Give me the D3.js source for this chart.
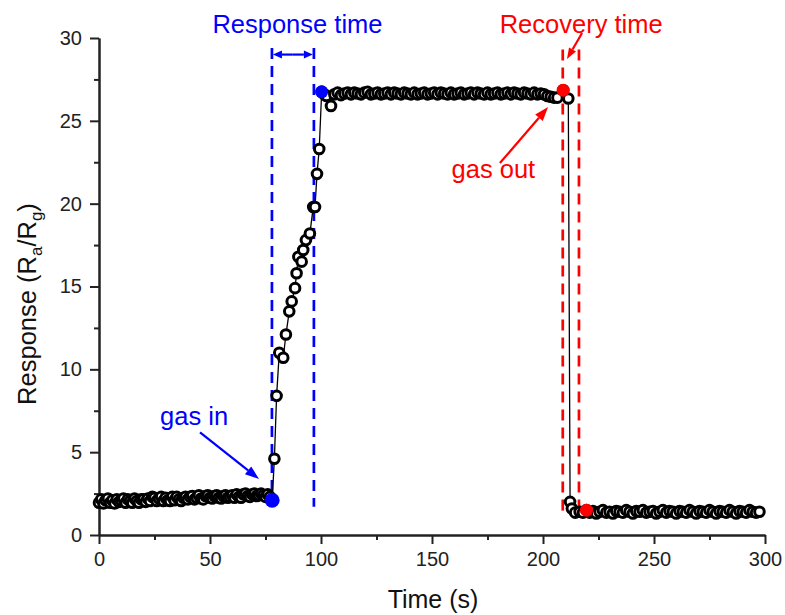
<!DOCTYPE html>
<html>
<head>
<meta charset="utf-8">
<script src="https://cdn.jsdelivr.net/npm/d3@7"></script>
<style>
  body { margin: 0; background: #fff; }
  svg { font-family: "Liberation Sans", Arial, sans-serif; }
</style>
</head>
<body>
<svg id="chart" width="785" height="615"></svg>
<script>
// baseline in air
var baseTime = [0,1,2,3,4,5,6,7,8,9,10,11,12,13,14,15,16,17,18,19,20,21,22,23,24,25,26,27,28,29,30,31,32,33,34,35,36,37,38,39,40,41,42,43,44,45,46,47,48,49,50,51,52,53,54,55,56,57,58,59,60,61,62,63,64,65,66,67,68,69,70,71,72,73,74,75,76,77];
var baseResp = [1.95,2.15,1.9,2.1,2.2,1.95,2.1,1.9,2.15,2.0,
  2.1,2.2,1.95,2.15,2.05,1.95,2.2,2.05,1.95,2.15,
  2.15,2.0,2.2,2.05,2.3,2.25,2.05,2.2,2.3,2.05,
  2.25,2.1,2.05,2.3,2.1,2.3,2.15,2.05,2.25,2.3,
  2.15,2.3,2.35,2.15,2.25,2.4,2.2,2.15,2.35,2.4,
  2.25,2.2,2.35,2.4,2.25,2.2,2.35,2.4,2.25,2.3,
  2.4,2.25,2.45,2.3,2.25,2.45,2.5,2.35,2.3,2.45,
  2.5,2.35,2.4,2.5,2.4,2.3,2.45,2.3];
// gas in -> rise
var riseTime = [78,79,80,81.2,83,84.2,85.7,86.8,88.3,89,89.8,91.3,92,93.2,95,96.5,97.3,98.2,99.2,100.3,101.5,102.5,104.5];
var riseResp = [2.1,4.6,8.4,11.0,10.7,12.1,13.5,14.1,14.9,15.8,16.8,16.5,17.2,17.8,18.2,19.8,19.8,21.8,23.3,26.75,26.6,26.5,25.9];
// plateau in gas
var plateauTime = [106,107.5,109,110.5,112,113.5,115,116.5,118,119.5,121,122.5,124,125.5,127,128.5,130,131.5,133,134.5,136,137.5,139,140.5,142,143.5,145,146.5,148,149.5,151,152.5,154,155.5,157,158.5,160,161.5,163,164.5,166,167.5,169,170.5,172,173.5,175,176.5,178,179.5,181,182.5,184,185.5,187,188.5,190,191.5,193,194.5,196,197.5,199,200.5,202,203.5,205,206.5];
var plateauResp = [26.6,26.7,26.55,26.65,26.7,26.6,26.7,26.65,26.6,26.7,
  26.75,26.6,26.65,26.7,26.6,26.65,26.7,26.6,26.7,26.65,
  26.6,26.7,26.65,26.6,26.7,26.6,26.65,26.7,26.6,26.65,
  26.7,26.6,26.7,26.65,26.6,26.7,26.6,26.65,26.7,26.6,
  26.65,26.7,26.6,26.7,26.65,26.6,26.7,26.6,26.65,26.7,
  26.6,26.65,26.7,26.6,26.7,26.65,26.6,26.7,26.65,26.6,
  26.7,26.6,26.65,26.6,26.5,26.45,26.4,26.4];
// gas out -> fall
var fallTime = [209.1,211.4,212.2,213,214.5,216.5,218,219.6];
var fallResp = [26.85,26.35,2.0,1.6,1.35,1.4,1.35,1.5];
// recovered baseline
var recTime = [221,222.5,224,225.5,227,228.5,230,231.5,233,234.5,236,237.5,239,240.5,242,243.5,245,246.5,248,249.5,251,252.5,254,255.5,257,258.5,260,261.5,263,264.5,266,267.5,269,270.5,272,273.5,275,276.5,278,279.5,281,282.5,284,285.5,287,288.5,290,291.5,293,294.5,296,297.5];
var recResp = [1.35,1.45,1.3,1.4,1.5,1.35,1.4,1.3,1.45,1.4,
  1.35,1.5,1.4,1.3,1.45,1.4,1.5,1.35,1.4,1.45,
  1.3,1.4,1.5,1.35,1.45,1.4,1.3,1.45,1.4,1.35,
  1.5,1.4,1.3,1.45,1.4,1.35,1.5,1.4,1.3,1.45,
  1.4,1.35,1.5,1.4,1.3,1.45,1.4,1.35,1.5,1.4,
  1.35,1.4];
// highlighted points: [time, response, colour, radius]
var highlights = [[78,2.1,'#0000ff',7.5],[100.3,26.75,'#0000ff',6.5],[209.1,26.85,'#ff0000',6.5],[219.6,1.5,'#ff0000',6.5]];

var xTicks = [0,50,100,150,200,250,300];
var xMinor = [25,75,125,175,225,275];
var yTicks = [0,5,10,15,20,25,30];
var yMinor = [2.5,7.5,12.5,17.5,22.5,27.5];

var svg = d3.select('#chart');
var x = d3.scaleLinear().domain([0,300]).range([99,765]);
var y = d3.scaleLinear().domain([0,30]).range([535,38]);

var pts = [];
function pushSeg(ts, vs) {
  for (var i = 0; i < ts.length; i++) pts.push({t: ts[i], v: vs[i]});
}
pushSeg(baseTime, baseResp);
pushSeg(riseTime, riseResp);
pushSeg(plateauTime, plateauResp);
pushSeg(fallTime, fallResp);
pushSeg(recTime, recResp);

// axes
function styleAxis(g) {
  g.select('.domain').attr('stroke','#222').attr('stroke-width',2);
  g.selectAll('.tick line').attr('stroke','#222').attr('stroke-width',2);
  g.selectAll('.tick text').attr('fill','#222').style('font-size','20px');
}
svg.append('g').attr('transform','translate(0,535)')
  .call(d3.axisBottom(x).tickValues(xMinor).tickSize(5).tickSizeOuter(0).tickFormat(''))
  .call(styleAxis);
svg.append('g').attr('transform','translate(0,535)')
  .call(d3.axisBottom(x).tickValues(xTicks).tickSize(9).tickPadding(8).tickSizeOuter(0))
  .call(styleAxis);
svg.append('g').attr('transform','translate(99,0)')
  .call(d3.axisLeft(y).tickValues(yMinor).tickSize(5).tickSizeOuter(0).tickFormat(''))
  .call(styleAxis);
svg.append('g').attr('transform','translate(99,0)')
  .call(d3.axisLeft(y).tickValues(yTicks).tickSize(9).tickPadding(8).tickSizeOuter(0))
  .call(styleAxis);

// axis titles
svg.append('text').attr('x',433).attr('y',608).attr('text-anchor','middle')
  .style('font-size','25px').attr('fill','#111').text('Time (s)');
var yl = svg.append('text').attr('transform','translate(36,304) rotate(-90)')
  .attr('text-anchor','middle').style('font-size','25.5px').attr('fill','#111');
yl.append('tspan').text('Response (R');
yl.append('tspan').attr('dy',6).style('font-size','17px').text('a');
yl.append('tspan').attr('dy',-6).text('/R');
yl.append('tspan').attr('dy',6).style('font-size','17px').text('g');
yl.append('tspan').attr('dy',-6).text(')');

// dashed guide lines
var guides = [[77.9,'#0000ff',29.4,1.7],[96.8,'#0000ff',29.4,1.7],[208.9,'#ff0000',29.3,1.4],[216.2,'#ff0000',29.3,1.4]];
svg.selectAll('line.guide').data(guides).enter().append('line')
  .attr('class','guide')
  .attr('x1',function(d){return x(d[0]);}).attr('x2',function(d){return x(d[0]);})
  .attr('y1',function(d){return y(d[2]);}).attr('y2',function(d){return y(d[3]);})
  .attr('stroke',function(d){return d[1];}).attr('stroke-width',2.7)
  .attr('stroke-dasharray','11,7');

// data line + points
svg.append('path').datum(pts)
  .attr('fill','none').attr('stroke','#000').attr('stroke-width',1.3)
  .attr('d', d3.line().x(function(d){return x(d.t);}).y(function(d){return y(d.v);}));
svg.selectAll('circle.pt').data(pts).enter().append('circle')
  .attr('class','pt')
  .attr('cx',function(d){return x(d.t);}).attr('cy',function(d){return y(d.v);})
  .attr('r',4.8).attr('fill','#fff').attr('stroke','#000').attr('stroke-width',3);
svg.selectAll('circle.hl').data(highlights).enter().append('circle')
  .attr('class','hl')
  .attr('cx',function(d){return x(d[0]);}).attr('cy',function(d){return y(d[1]);})
  .attr('r',function(d){return d[3];}).attr('fill',function(d){return d[2];});

// arrows
function arrow(x1, y1, x2, y2, color, len, wid) {
  var a = Math.atan2(y2-y1, x2-x1);
  var bx = x2 - len*Math.cos(a), by = y2 - len*Math.sin(a);
  svg.append('line').attr('x1',x1).attr('y1',y1).attr('x2',bx).attr('y2',by)
    .attr('stroke',color).attr('stroke-width',2.2);
  var px = Math.sin(a)*wid/2, py = -Math.cos(a)*wid/2;
  svg.append('polygon')
    .attr('points',[[x2,y2],[bx+px,by+py],[bx-px,by-py]].map(function(p){return p.join(',');}).join(' '))
    .attr('fill',color);
}
arrow(x(45.5),y(6.2),x(72.1),y(3.38),'#0000ff',14,10);
arrow(x(180.6),y(22.45),x(202.3),y(25.83),'#ff0000',14,10);
arrow(x(217.6),y(30.3),x(210.8),y(28.73),'#ff0000',11,8);
// double arrow for response time
var dy0 = y(29.0);
arrow(x(87.3),dy0,x(77.9)+1,dy0,'#0000ff',9,8);
arrow(x(87.3),dy0,x(96.8)-1,dy0,'#0000ff',9,8);

// annotation texts
var notes = [['Response time',89.4,30.3,'#0000ff','middle'],['Recovery time',217.2,30.3,'#ff0000','middle'],
  ['gas in',27.5,6.64,'#0000ff','start'],['gas out',158.8,21.55,'#ff0000','start']];
svg.selectAll('text.note').data(notes).enter().append('text')
  .attr('class','note')
  .attr('x',function(d){return x(d[1]);}).attr('y',function(d){return y(d[2]);})
  .attr('text-anchor',function(d){return d[4];})
  .attr('fill',function(d){return d[3];}).style('font-size','25.5px')
  .text(function(d){return d[0];});
</script>
</body>
</html>
